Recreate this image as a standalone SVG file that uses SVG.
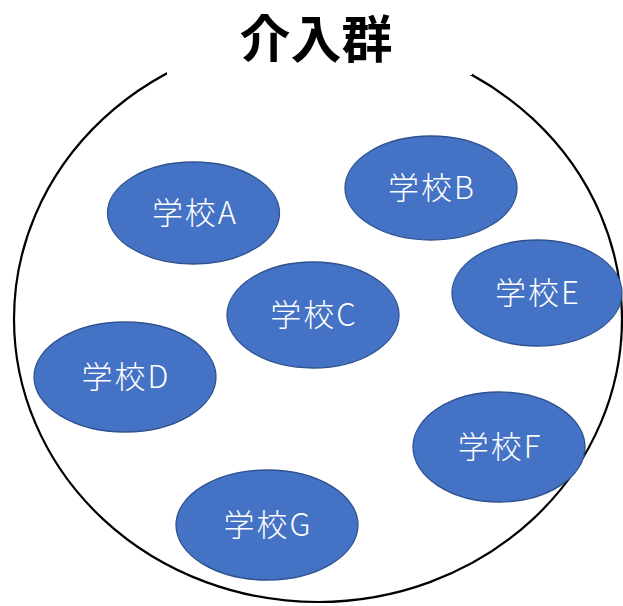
<svg xmlns="http://www.w3.org/2000/svg" width="623" height="606" viewBox="0 0 623 606">
<style>
.node ellipse{fill:#4472C4;stroke:#2F528F;stroke-width:1.3}
.node text{fill:#ffffff;font-family:"Noto Sans CJK JP","Noto Sans",sans-serif;font-size:31px;font-weight:300;letter-spacing:2px;text-anchor:middle}
.title{fill:#000;font-family:"Noto Sans CJK JP",sans-serif;font-size:51px;font-weight:bold;text-anchor:middle}
</style>
<rect width="623" height="606" fill="#fff"/>
<g id="group">
<ellipse cx="318" cy="319" rx="304" ry="283" fill="none" stroke="#000" stroke-width="2.2"/>
<rect x="167" y="0" width="305" height="75" fill="#fff"/>
<text class="title" x="316" y="58">介入群</text>
</g>
<g id="connectors"></g>
<g id="nodeA" class="node"><ellipse cx="193.5" cy="213" rx="86" ry="51"/><text x="195" y="224">学校A</text></g>
<g id="nodeB" class="node"><ellipse cx="431" cy="188" rx="86" ry="52"/><text x="432" y="199">学校B</text></g>
<g id="nodeC" class="node"><ellipse cx="313" cy="315" rx="86" ry="53"/><text x="314" y="326">学校C</text></g>
<g id="nodeD" class="node"><ellipse cx="125" cy="377" rx="91" ry="55"/><text x="126" y="388">学校D</text></g>
<g id="nodeE" class="node"><ellipse cx="537" cy="293" rx="85" ry="53"/><text x="538" y="304">学校E</text></g>
<g id="nodeF" class="node"><ellipse cx="499" cy="447" rx="86" ry="55"/><text x="500" y="458">学校F</text></g>
<g id="nodeG" class="node"><ellipse cx="267" cy="525" rx="91" ry="55"/><text x="268" y="536">学校G</text></g>
</svg>
